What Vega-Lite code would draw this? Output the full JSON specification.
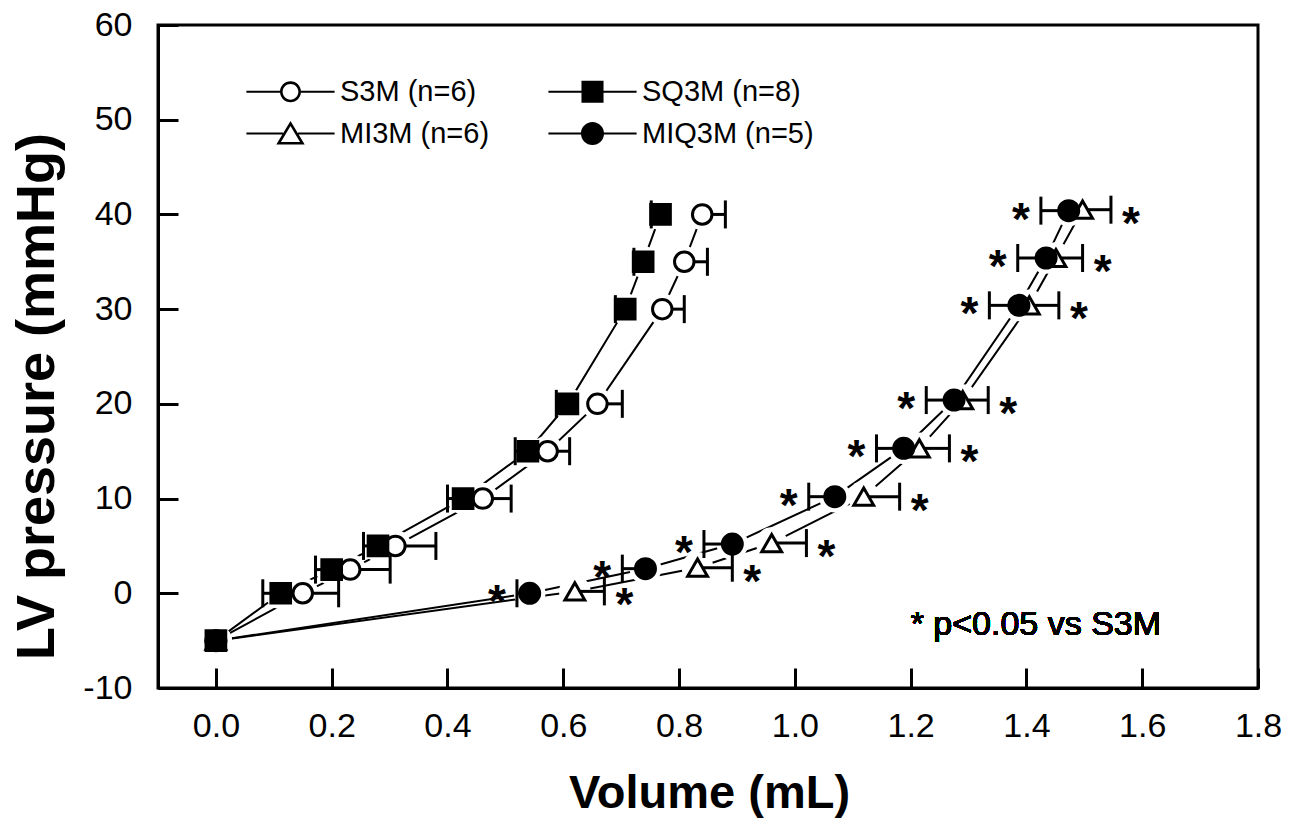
{
  "$schema": "https://vega.github.io/schema/vega-lite/v6.json",
  "width": 1100,
  "height": 663,
  "autosize": {"type": "none"},
  "padding": {"left": 158, "top": 25, "right": 38, "bottom": 132},
  "background": "white",
  "config": {
    "font": "Liberation Sans",
    "view": {"stroke": "black", "strokeWidth": 3},
    "axis": {
      "grid": false,
      "domainColor": "black",
      "domainWidth": 3,
      "tickColor": "black",
      "tickWidth": 3,
      "tickSize": -20,
      "labelColor": "black",
      "labelFont": "Liberation Sans",
      "labelFontSize": 34,
      "labelFlush": false,
      "labelOverlap": false,
      "titleColor": "black",
      "titleFont": "Liberation Sans",
      "titleFontWeight": "bold"
    }
  },
  "data": {
    "values": [
      {"series": "S3M", "vol": 0.0, "p": -5, "bar_end": null},
      {"series": "S3M", "vol": 0.150, "p": 0, "bar_end": 0.212},
      {"series": "S3M", "vol": 0.232, "p": 2.5, "bar_end": 0.301},
      {"series": "S3M", "vol": 0.310, "p": 5, "bar_end": 0.380},
      {"series": "S3M", "vol": 0.461, "p": 10, "bar_end": 0.510},
      {"series": "S3M", "vol": 0.573, "p": 15, "bar_end": 0.611},
      {"series": "S3M", "vol": 0.659, "p": 20, "bar_end": 0.702},
      {"series": "S3M", "vol": 0.771, "p": 30, "bar_end": 0.809},
      {"series": "S3M", "vol": 0.809, "p": 35, "bar_end": 0.849},
      {"series": "S3M", "vol": 0.840, "p": 40, "bar_end": 0.880},
      {"series": "SQ3M", "vol": 0.0, "p": -5, "bar_end": null},
      {"series": "SQ3M", "vol": 0.112, "p": 0, "bar_end": 0.081},
      {"series": "SQ3M", "vol": 0.200, "p": 2.5, "bar_end": 0.172},
      {"series": "SQ3M", "vol": 0.280, "p": 5, "bar_end": 0.255},
      {"series": "SQ3M", "vol": 0.427, "p": 10, "bar_end": 0.400},
      {"series": "SQ3M", "vol": 0.539, "p": 15, "bar_end": 0.517},
      {"series": "SQ3M", "vol": 0.608, "p": 20, "bar_end": 0.588},
      {"series": "SQ3M", "vol": 0.707, "p": 30, "bar_end": 0.690},
      {"series": "SQ3M", "vol": 0.738, "p": 35, "bar_end": 0.722},
      {"series": "SQ3M", "vol": 0.768, "p": 40, "bar_end": 0.752},
      {"series": "MI3M", "vol": 0.0, "p": -5, "bar_end": null},
      {"series": "MI3M", "vol": 0.620, "p": 0.2, "bar_end": 0.671},
      {"series": "MI3M", "vol": 0.832, "p": 2.7, "bar_end": 0.892},
      {"series": "MI3M", "vol": 0.960, "p": 5.3, "bar_end": 1.020},
      {"series": "MI3M", "vol": 1.119, "p": 10.2, "bar_end": 1.181},
      {"series": "MI3M", "vol": 1.215, "p": 15.3, "bar_end": 1.267},
      {"series": "MI3M", "vol": 1.290, "p": 20.4, "bar_end": 1.334},
      {"series": "MI3M", "vol": 1.405, "p": 30.4, "bar_end": 1.456},
      {"series": "MI3M", "vol": 1.451, "p": 35.4, "bar_end": 1.497},
      {"series": "MI3M", "vol": 1.497, "p": 40.5, "bar_end": 1.546},
      {"series": "MIQ3M", "vol": 0.0, "p": -5, "bar_end": null},
      {"series": "MIQ3M", "vol": 0.542, "p": 0, "bar_end": 0.520},
      {"series": "MIQ3M", "vol": 0.742, "p": 2.6, "bar_end": 0.702},
      {"series": "MIQ3M", "vol": 0.892, "p": 5.2, "bar_end": 0.843},
      {"series": "MIQ3M", "vol": 1.069, "p": 10.2, "bar_end": 1.024},
      {"series": "MIQ3M", "vol": 1.188, "p": 15.3, "bar_end": 1.141},
      {"series": "MIQ3M", "vol": 1.275, "p": 20.4, "bar_end": 1.227},
      {"series": "MIQ3M", "vol": 1.387, "p": 30.4, "bar_end": 1.336},
      {"series": "MIQ3M", "vol": 1.434, "p": 35.4, "bar_end": 1.385},
      {"series": "MIQ3M", "vol": 1.473, "p": 40.4, "bar_end": 1.425}
    ]
  },
  "encoding": {
    "x": {
      "field": "vol",
      "type": "quantitative",
      "title": "Volume (mL)",
      "scale": {"domain": [-0.1, 1.8], "nice": false, "zero": false},
      "axis": {
        "values": [0, 0.2, 0.4, 0.6, 0.8, 1.0, 1.2, 1.4, 1.6, 1.8],
        "format": ".1f",
        "labelBaseline": "alphabetic",
        "labelPadding": 68,
        "titleFontSize": 47,
        "titleX": 551,
        "titleY": 119,
        "titleAlign": "center",
        "titleBaseline": "alphabetic"
      }
    },
    "y": {
      "field": "p",
      "type": "quantitative",
      "title": "LV pressure (mmHg)",
      "scale": {"domain": [-10, 60], "nice": false, "zero": false},
      "axis": {
        "values": [-10, 0, 10, 20, 30, 40, 50, 60],
        "labelExpr": "datum.value < 0 ? '-' + abs(datum.value) : datum.label",
        "labelPadding": 46,
        "titleFontSize": 54,
        "titleAngle": 270,
        "titleX": -121,
        "titleY": 371,
        "titleAlign": "center",
        "titleBaseline": "middle"
      }
    }
  },
  "layer": [
    {
      "mark": {"type": "line", "color": "black", "strokeWidth": 2},
      "encoding": {
        "detail": {"field": "series", "type": "nominal"},
        "order": {"field": "p", "type": "quantitative"}
      }
    },
    {
      "mark": {"type": "point", "shape": "circle", "filled": true, "color": "white", "opacity": 1, "size": 1000}
    },
    {
      "transform": [{"filter": "datum.bar_end != null"}],
      "mark": {"type": "rule", "color": "black", "strokeWidth": 3},
      "encoding": {
        "x2": {"field": "bar_end"}
      }
    },
    {
      "transform": [{"filter": "datum.bar_end != null"}],
      "mark": {"type": "tick", "orient": "vertical", "size": 28, "thickness": 3, "color": "black", "opacity": 1},
      "encoding": {
        "x": {"field": "bar_end", "type": "quantitative", "title": "Volume (mL)"}
      }
    },
    {
      "mark": {"type": "point", "filled": true, "stroke": "black", "strokeWidth": 3, "opacity": 1, "fillOpacity": 1},
      "encoding": {
        "shape": {
          "field": "series", "type": "nominal",
          "scale": {"domain": ["S3M", "SQ3M", "MI3M", "MIQ3M"], "range": ["circle", "square", "triangle-up", "circle"]},
          "legend": null
        },
        "fill": {
          "field": "series", "type": "nominal",
          "scale": {"domain": ["S3M", "SQ3M", "MI3M", "MIQ3M"], "range": ["white", "black", "white", "black"]},
          "legend": null
        },
        "size": {
          "field": "series", "type": "nominal",
          "scale": {"domain": ["S3M", "SQ3M", "MI3M", "MIQ3M"], "range": [380, 400, 500, 441]},
          "legend": null
        }
      }
    },
    {
      "mark": {"type": "point", "opacity": 0, "filled": true, "color": "black", "stroke": "black", "strokeWidth": 0},
      "encoding": {
        "shape": {
          "field": "series", "type": "nominal",
          "title": null,
          "scale": {
            "domain": ["S3M", "SQ3M", "MI3M", "MIQ3M"],
            "range": [
              "M-4.2,-0.1H-1V0.1H-4.2ZM1,-0.1H4.2V0.1H1ZM-1,0A1,1,0,1,1,1,0A1,1,0,1,1,-1,0ZM-0.75,0A0.75,0.75,0,1,0,0.75,0A0.75,0.75,0,1,0,-0.75,0Z",
              "M-4.2,-0.1H-1.05V0.1H-4.2ZM1.05,-0.1H4.2V0.1H1.05ZM-1.05,-1.05H1.05V1.05H-1.05Z",
              "M-4.2,-0.1H-0.72V0.1H-4.2ZM0.72,-0.1H4.2V0.1H0.72ZM0,-1.2L1.35,1.05L-1.35,1.05ZM0,-0.714L-0.908,0.8L0.908,0.8Z",
              "M-4.2,-0.1H-1.05V0.1H-4.2ZM1.05,-0.1H4.2V0.1H1.05ZM-1.1,0A1.1,1.1,0,1,1,1.1,0A1.1,1.1,0,1,1,-1.1,0Z"
            ]
          },
          "legend": {
            "orient": "none",
            "legendX": 118,
            "legendY": 52,
            "direction": "horizontal",
            "columns": 2,
            "padding": 0,
            "columnPadding": 58,
            "rowPadding": 12,
            "labelFont": "Liberation Sans",
            "labelFontSize": 29,
            "labelColor": "black",
            "labelLimit": 400,
            "labelOffset": 35,
            "symbolSize": 441,
            "symbolOpacity": 1,
            "symbolStrokeWidth": 0,
            "symbolStrokeColor": "black",
            "symbolFillColor": "black",
            "labelExpr": "datum.label === 'S3M' ? 'S3M (n=6)' : datum.label === 'SQ3M' ? 'SQ3M (n=8)' : datum.label === 'MI3M' ? 'MI3M (n=6)' : 'MIQ3M (n=5)'"
          }
        }
      }
    },
    {
      "transform": [{"filter": "datum.series === 'MIQ3M' && datum.bar_end != null"}],
      "mark": {"type": "text", "text": "*", "fontSize": 46, "fontWeight": "bold", "font": "Liberation Sans", "color": "black", "align": "center", "baseline": "alphabetic", "dx": -20, "dy": 24},
      "encoding": {
        "x": {"field": "bar_end", "type": "quantitative", "title": "Volume (mL)"}
      }
    },
    {
      "transform": [{"filter": "datum.series === 'MI3M' && datum.bar_end != null"}],
      "mark": {"type": "text", "text": "*", "fontSize": 46, "fontWeight": "bold", "font": "Liberation Sans", "color": "black", "align": "center", "baseline": "alphabetic", "dx": 20, "dy": 29},
      "encoding": {
        "x": {"field": "bar_end", "type": "quantitative", "title": "Volume (mL)"}
      }
    },
    {
      "mark": {"type": "text", "text": "* p<0.05 vs S3M", "fontSize": 34, "font": "Liberation Sans", "color": "black", "align": "left", "baseline": "alphabetic"},
      "encoding": {
        "x": {"datum": 1.2},
        "y": {"datum": -4.43}
      }
    }
  ],
  "resolve": {
    "scale": {"shape": "independent"},
    "legend": {"shape": "independent"}
  }
}
